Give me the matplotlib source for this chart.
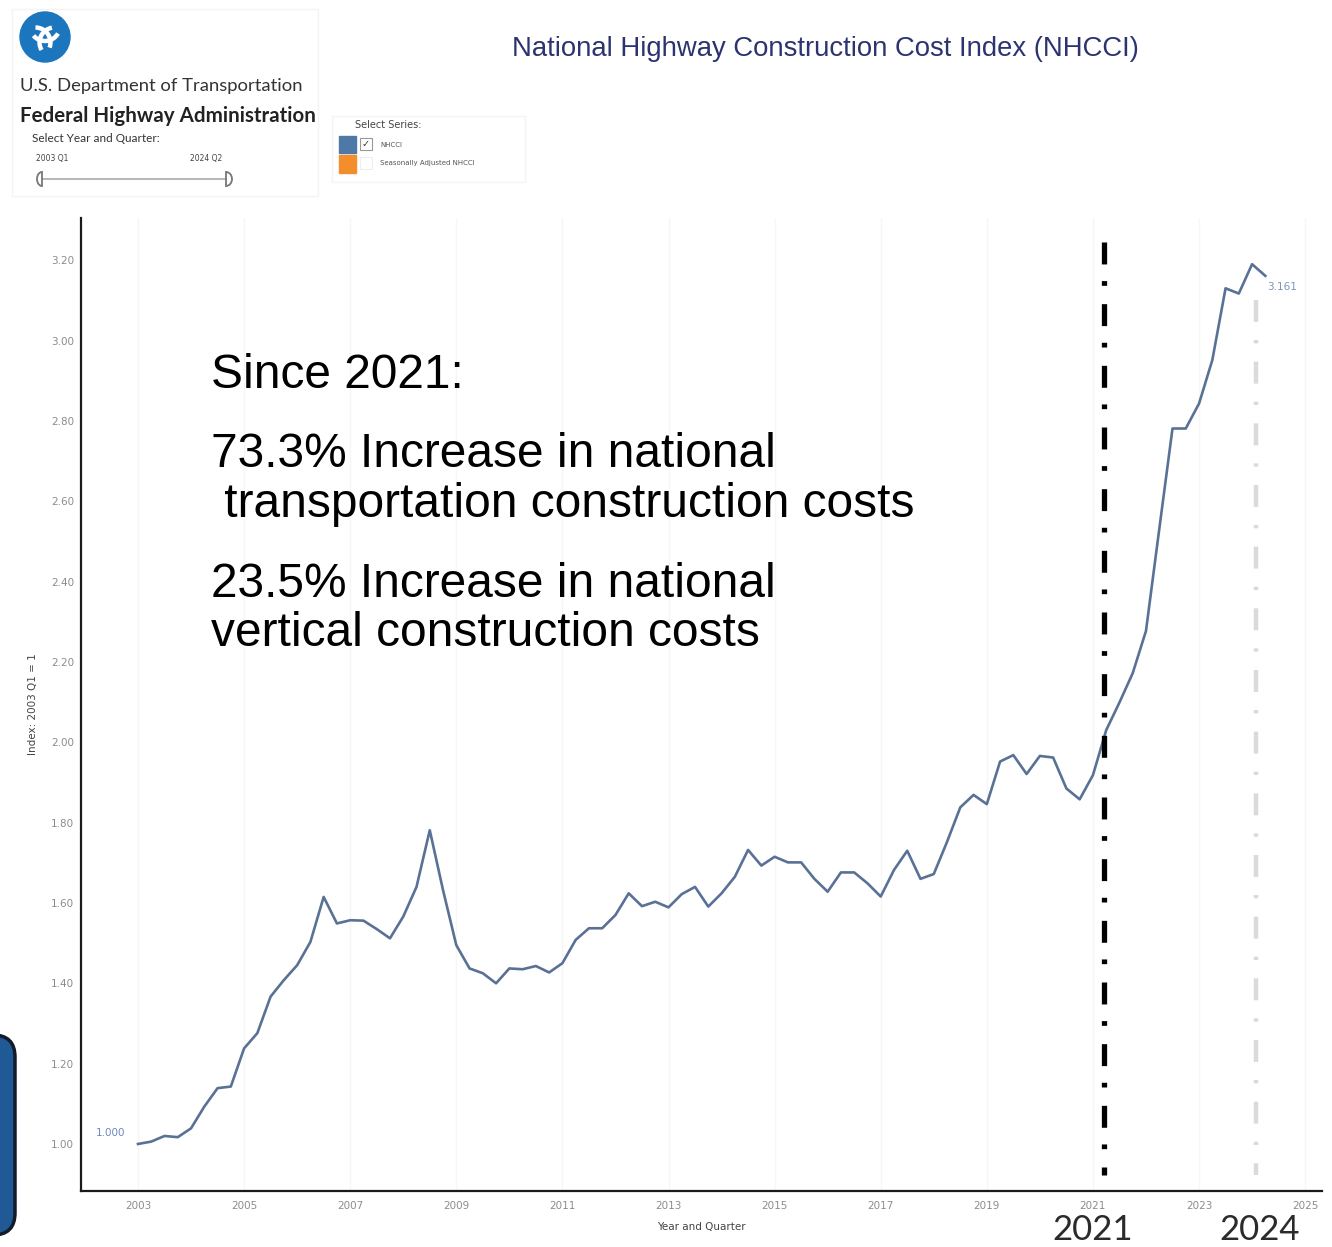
import numpy as np
import matplotlib
matplotlib.use('Agg')
import matplotlib.pyplot as plt
from matplotlib.patches import Circle, Arc, FancyBboxPatch, Rectangle

W, H = 1332, 1247

# NHCCI, quarterly, 2003 Q1 .. 2024 Q2
start_year = 2003
nhcci = [1.000, 1.006, 1.020, 1.017, 1.039, 1.093, 1.139, 1.143,
         1.238, 1.276, 1.367, 1.408, 1.445, 1.503, 1.615, 1.549,
         1.557, 1.556, 1.535, 1.512, 1.566, 1.640, 1.781, 1.632,
         1.495, 1.437, 1.425, 1.400, 1.437, 1.435, 1.443, 1.427,
         1.450, 1.508, 1.537, 1.537, 1.570, 1.624, 1.592, 1.603,
         1.589, 1.622, 1.640, 1.591, 1.624, 1.665, 1.732, 1.693,
         1.715, 1.701, 1.701, 1.660, 1.628, 1.676, 1.676, 1.649,
         1.616, 1.682, 1.730, 1.660, 1.672, 1.752, 1.838, 1.869,
         1.846, 1.952, 1.968, 1.921, 1.966, 1.962, 1.885, 1.858,
         1.918, 2.030, 2.099, 2.172, 2.277, 2.530, 2.781, 2.781,
         2.843, 2.951, 3.130, 3.117, 3.190, 3.161]
years = start_year + np.arange(len(nhcci)) / 4.0

xticks = list(range(2003, 2026, 2))
yticks = [1.00, 1.20, 1.40, 1.60, 1.80, 2.00, 2.20, 2.40, 2.60, 2.80, 3.00, 3.20]

marker_2021 = 2021.2
marker_2024 = 2024.07

notes = ["Since 2021:",
         "73.3% Increase in national",
         " transportation construction costs",
         "23.5% Increase in national",
         "vertical construction costs"]

line_color = '#5a7196'
plt.rcParams['lines.scale_dashes'] = False

fig = plt.figure(figsize=(W / 100, H / 100), dpi=100)
fig.patch.set_facecolor('white')

# main plot
ax = fig.add_axes([81 / W, (H - 1191) / H, (1322 - 81) / W, (1191 - 218) / H])
ax.set_xlim(2001.926, 2025.318)
ax.set_ylim(0.883, 3.305)
ax.grid(axis='x', color='#f6f6f6', linewidth=1.0)
ax.set_axisbelow(True)

ax.plot(years, nhcci, color=line_color, linewidth=1.9, zorder=3)

dashdot = (0, (15.8, 12.0, 3.4, 13.2))
ax.plot([marker_2021, marker_2021], [3.245, 0.923], color='black',
        linewidth=3.8, linestyle=dashdot, dash_capstyle='butt', zorder=4)
ax.plot([marker_2024, marker_2024], [3.100, 0.923], color='#dadada',
        linewidth=3.2, linestyle=(0, (15.8, 13.0, 2.4, 13.2)),
        dash_capstyle='butt', zorder=2)

ax.annotate('%.3f' % nhcci[0], (years[0], nhcci[0]), xytext=(-20, 8),
            textcoords='offset points', ha='center', va='center',
            fontsize=7.5, color='#6f86c2')
ax.annotate('%.3f' % nhcci[-1], (years[-1], nhcci[-1]), xytext=(12, -8),
            textcoords='offset points', ha='center', va='center',
            fontsize=7.5, color='#7f93b8')

ax.set_xticks(xticks)
ax.set_xticklabels([str(y) for y in xticks])
ax.set_yticks(yticks)
ax.set_yticklabels(['%.2f' % v for v in yticks])
ax.tick_params(axis='both', length=0, labelsize=7.5, colors='#8c8c8c')
ax.tick_params(axis='x', pad=7)
ax.tick_params(axis='y', pad=5)
for s in ['top', 'right']:
    ax.spines[s].set_visible(False)
for s in ['left', 'bottom']:
    ax.spines[s].set_linewidth(1.6)
    ax.spines[s].set_color('#1a1a1a')

ax.set_xlabel('Year and Quarter', fontsize=7.5, color='#444444', labelpad=8)
ax.set_ylabel('Index: 2003 Q1 = 1', fontsize=7.5, color='#444444', labelpad=9)

# overlay in pixel coordinates for header and annotations
ov = fig.add_axes([0, 0, 1, 1], facecolor='none')
ov.set_xlim(0, W)
ov.set_ylim(H, 0)
ov.axis('off')

sans = ['Liberation Sans', 'DejaVu Sans']
baselines = [388, 467, 517, 597, 646]
for txt, yb in zip(notes, baselines):
    ov.text(211, yb, txt, fontsize=34.5, family=sans, color='black',
            va='baseline', ha='left')

ov.text(825, 49, 'National Highway Construction Cost Index (NHCCI)',
        fontsize=19.8, family=sans, color='#2c3470', ha='center', va='center')

# logo block
ov.add_patch(Rectangle((12, 9), 306, 187, fill=False, ec='#f4f4f4', lw=1))
ov.add_patch(Circle((45, 37), 25, color='#1c76be'))
for ang in (90, 210, 330):
    r = np.deg2rad(ang)
    cx, cy = 45 + 11 * np.cos(r), 37 - 11 * np.sin(r)
    ov.add_patch(Arc((cx, cy), 30, 30, angle=-ang, theta1=120, theta2=230,
                     color='white', lw=3.2))
ov.text(20, 86, 'U.S. Department of Transportation', fontsize=13.3,
        family=['Lato', 'DejaVu Sans'], color='#333333', va='center')
ov.text(20, 116, 'Federal Highway Administration', fontsize=14.8,
        family=['Lato', 'DejaVu Sans'], weight='bold', color='#222222',
        va='center')
ov.text(32, 138, 'Select Year and Quarter:', fontsize=8.5,
        family=['Lato', 'DejaVu Sans'], color='#333333', va='center')
ov.text(36, 158, '2003 Q1', fontsize=5.5, color='#444444', va='center')
ov.text(190, 158, '2024 Q2', fontsize=5.5, color='#444444', va='center')
ov.plot([42, 226], [179, 179], color='#aaaaaa', lw=1.2)
ov.add_patch(Arc((42, 179), 10, 14, theta1=90, theta2=270, color='#777777', lw=1.3))
ov.plot([42, 42], [172, 186], color='#777777', lw=1.3)
ov.add_patch(Arc((226, 179), 12, 14, theta1=-90, theta2=90, color='#777777', lw=1.3))
ov.plot([226, 226], [172, 186], color='#777777', lw=1.3)

# series selector
ov.add_patch(Rectangle((332, 116), 193, 66, fill=False, ec='#f4f4f4', lw=1))
ov.text(355, 125, 'Select Series:', fontsize=7, color='#444444', va='center')
ov.add_patch(Rectangle((339, 136), 17, 17, color='#4e79a7'))
ov.add_patch(Rectangle((339, 155), 17, 18, color='#f28e2b'))
ov.add_patch(Rectangle((360, 138), 12, 12, fill=False, ec='#999999', lw=0.8))
ov.text(366, 144, '\u2713', fontsize=7, color='#333333', ha='center', va='center')
ov.add_patch(Rectangle((360, 157), 12, 12, fill=False, ec='#eeeeee', lw=0.8))
ov.text(380, 145, 'NHCCI', fontsize=5, color='#555555', va='center')
ov.text(380, 163, 'Seasonally Adjusted NHCCI', fontsize=5, color='#555555',
        va='center')

# side box and large year captions
ov.add_patch(FancyBboxPatch((-80, 1035), 95, 200,
                            boxstyle='round,pad=0,rounding_size=22',
                            fc='#1f5a96', ec='#111b29', lw=2.5))
ov.text(1093, 1240, '2021', fontsize=25, family=['Lato', 'DejaVu Sans'],
        color='#2b2b2b', ha='center', va='baseline')
ov.text(1260, 1240, '2024', fontsize=25, family=['Lato', 'DejaVu Sans'],
        color='#2b2b2b', ha='center', va='baseline')

fig.savefig('out.png', dpi=100)
